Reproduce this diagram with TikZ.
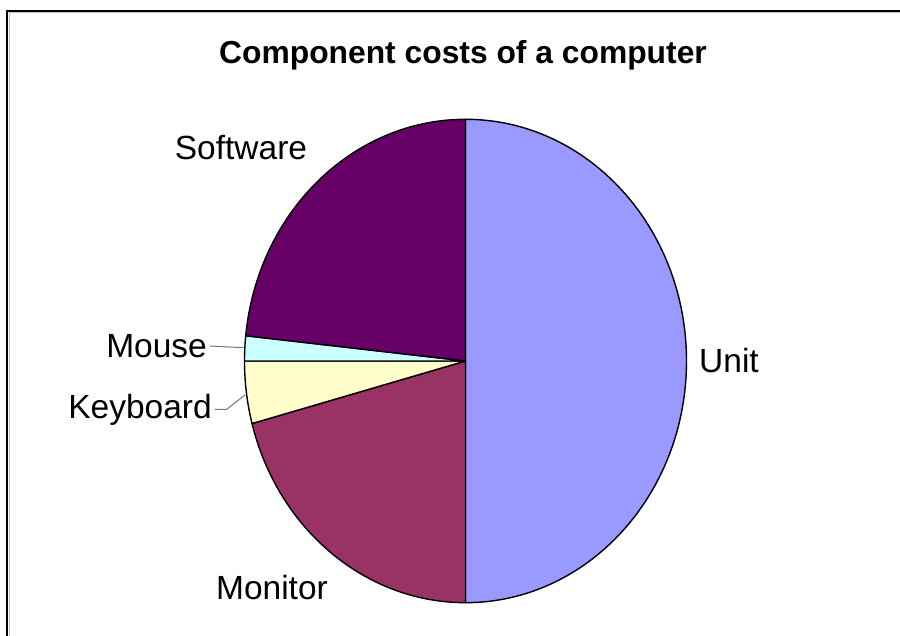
\documentclass[tikz,border=0pt]{standalone}
\usepackage{fontspec}
\setmainfont{Liberation Sans}
\definecolor{unitc}{HTML}{9999FF}
\definecolor{monc}{HTML}{993366}
\definecolor{keyc}{HTML}{FFFFCC}
\definecolor{mousec}{HTML}{CCFFFF}
\definecolor{softc}{HTML}{660066}
\definecolor{leadc}{HTML}{777777}
\tikzset{
  slice/.style={draw=black, line width=1.4pt, line join=round},
  ell/.style={x radius=221pt, y radius=241.7pt},
  lbl/.style={inner sep=0pt, font=\fontsize{33.5}{38}\selectfont},
  ttl/.style={inner sep=0pt, font=\fontsize{31.8}{36}\selectfont\bfseries},
  leader/.style={draw=leadc, line width=1pt},
  frame/.style={draw=black, line width=2.6pt}
}
\begin{document}
\begin{tikzpicture}[x=1pt,y=1pt]
\useasboundingbox (0,0) rectangle (900,635);
\fill[white] (0,0) rectangle (900,635);
\draw[frame] (7,-2) -- (7,624) -- (902,624);
\draw[draw=gray!50, line width=0.6pt] (8.8,-2) -- (8.8,622.2) -- (902,622.2);
\coordinate (c) at (465.5,274);
% slices
\path[slice, fill=unitc] (c) -- +(90:221pt and 241.7pt) arc[start angle=90, end angle=-90, ell] -- cycle;
\path[slice, fill=monc] (c) -- +(-90:221pt and 241.7pt) arc[start angle=-90, end angle=-165, ell] -- cycle;
\path[slice, fill=keyc] (c) -- +(-165:221pt and 241.7pt) arc[start angle=-165, end angle=-180, ell] -- cycle;
\path[slice, fill=mousec] (c) -- +(180:221pt and 241.7pt) arc[start angle=180, end angle=174, ell] -- cycle;
\path[slice, fill=softc] (c) -- +(174:221pt and 241.7pt) arc[start angle=174, end angle=90, ell] -- cycle;
% title
\node[ttl] (title) at (463,580) {Component costs of a computer};
% labels
\node[lbl, anchor=west] (unit) at (699,274) {Unit};
\node[lbl] (soft) at (241,487) {Software};
\node[lbl, anchor=east] (mouse) at (207,289) {Mouse};
\node[lbl, anchor=east] (key) at (212,225) {Keyboard};
\node[lbl] (mon) at (272,47) {Monitor};
% leader lines
\coordinate (mouseend) at (243.3,287.3);
\coordinate (keybend) at (226.7,225.7);
\coordinate (keyend) at (245,240);
\draw[leader] ([xshift=3pt]mouse.east) -- (mouseend);
\draw[leader] ([xshift=3pt]key.east |- keybend) -- (keybend) -- (keyend);
\end{tikzpicture}
\end{document}
